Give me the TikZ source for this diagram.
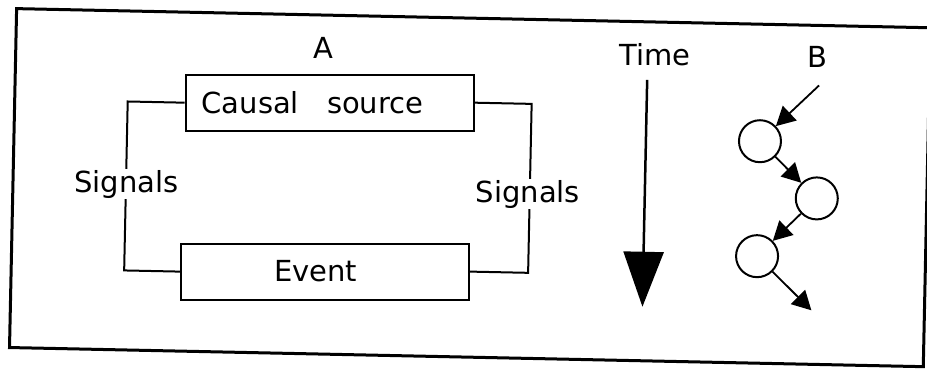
\documentclass[tikz,border=0pt]{standalone}
\usepackage{fontspec}
\setmainfont{DejaVu Sans}
\usetikzlibrary{arrows.meta}
\begin{document}
\begin{tikzpicture}[x=1pt,y=-1pt,
  lbl/.style={font=\fontsize{29}{34}\selectfont, inner sep=1pt},
  boxnode/.style={draw, line width=2pt, minimum height=56pt, font=\fontsize{29}{34}\selectfont, align=left, inner ysep=0pt},
  wire/.style={line width=2pt},
  ball/.style={draw, circle, line width=2pt, minimum size=42pt, inner sep=0pt},
  smallarrow/.style={line width=1.8pt, -{Triangle[length=19pt,width=20pt]}},
  timearrow/.style={line width=2.5pt, -{Triangle[length=55pt,width=40pt]}},
]
\useasboundingbox (0,0) rectangle (927,369);
\fill[white] (0,0) rectangle (927,369);
\begin{scope}[rotate around={-1.2:(463,185)}]
  % frame
  \draw[line width=3pt] (13,18) rectangle (927,357);
  % part A
  \node[lbl] (labA) at (321,51) {A};
  \node[boxnode, text width=256pt, inner xsep=16pt] (causal) at (328,105.5) {Causal\hspace{28pt}source};
  \node[boxnode, text width=102pt, inner xsep=93pt] (event) at (327,274.5) {Event};
  \draw[wire] (causal.west) -- ++(-57,0) |- (event.west);
  \draw[wire] (causal.east) -- ++(57,0) |- (event.east);
  \node[lbl, fill=white] (sigl) at (126.5,191.5) {Signals};
  \node[lbl, fill=white] (sigr) at (528,193) {Signals};
  % time
  \node[lbl] (labT) at (652,51) {Time};
  \coordinate (ttop) at (645,76);
  \coordinate (tbot) at (645,303);
  \draw[timearrow] (ttop) -- (tbot);
  % part B
  \node[lbl] (labB) at (815,50) {B};
  \node[ball] (c1) at (759,135) {};
  \node[ball] (c2) at (817,191) {};
  \node[ball] (c3) at (758.5,250) {};
  \coordinate (bin) at (817,78);
  \coordinate (bout) at (814,303);
  \draw[smallarrow] (bin) -- (c1);
  \draw[smallarrow] (c1) -- (c2);
  \draw[smallarrow] (c2) -- (c3);
  \draw[smallarrow] (c3) -- (bout);
\end{scope}
\end{tikzpicture}
\end{document}
